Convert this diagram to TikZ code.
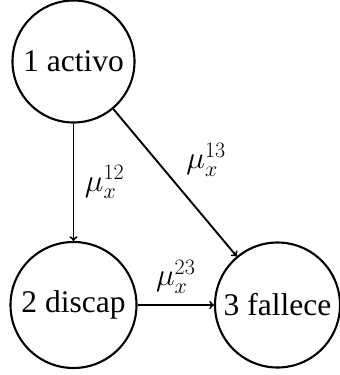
\RequirePackage{fix-cm}
\documentclass[tikz,border=0pt]{standalone}
\usepackage{fontspec}
\setmainfont{Liberation Serif}
\DeclareMathSizes{31.5}{31.5}{22}{16}
\begin{document}
\begin{tikzpicture}[x=1pt,y=-1pt,
  state/.style={circle,draw,line width=2.1pt,inner sep=0pt,font=\fontsize{31.5}{38}\selectfont},
  trans/.style={->,line width=1.9pt},
  lab/.style={font=\fontsize{31.5}{38}\selectfont,inner sep=10.5pt}]
\useasboundingbox (0,0) rectangle (340,375);
\node[state,minimum size=122pt] (a) at (73.5,61.5) {1 activo};
\node[state,minimum size=126pt] (d) at (73.5,305) {2 discap};
\node[state,minimum size=125pt] (f) at (277.5,305) {3 fallece};
\draw[trans] (a) -- node[lab,right] {$\mu_x^{12}$} (d);
\draw[trans] (a) -- node[lab,above right,yshift=-5pt] {$\mu_x^{13}$} (f);
\draw[trans] (d) -- node[lab,above] {$\mu_x^{23}$} (f);
\end{tikzpicture}
\end{document}
